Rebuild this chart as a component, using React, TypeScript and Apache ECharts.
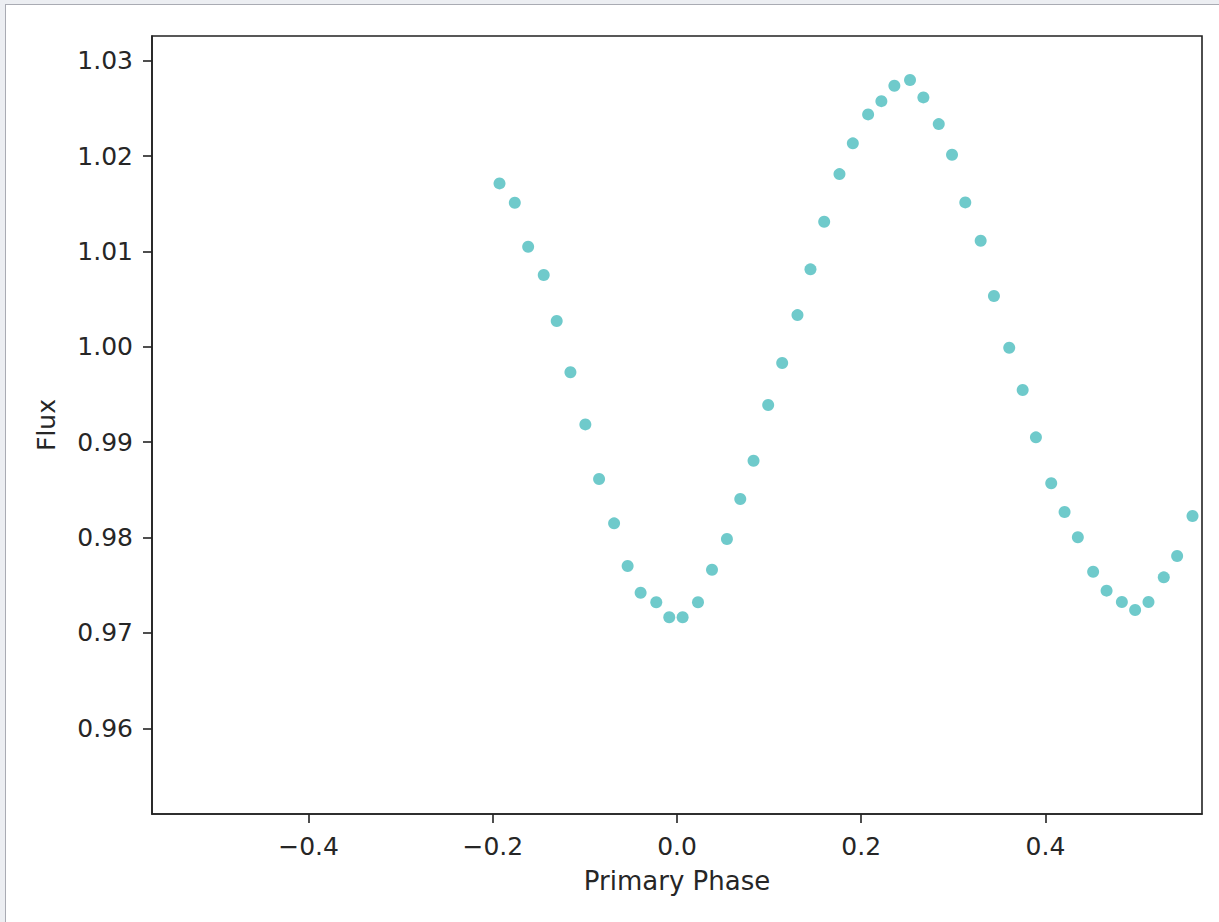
import React, { useEffect, useRef } from "react";
import * as echarts from "echarts";

const phase: number[] = [
  -0.1927, -0.1761, -0.1616, -0.1447, -0.1306, -0.1157, -0.0995, -0.0846, -0.0683, -0.0536,
  -0.0395, -0.0225, -0.0084, 0.0061, 0.0228, 0.038, 0.0542, 0.0687, 0.0831, 0.099,
  0.1142, 0.1308, 0.1449, 0.1598, 0.1764, 0.1909, 0.2075, 0.2219, 0.236, 0.253,
  0.2675, 0.2842, 0.2986, 0.313, 0.3297, 0.3441, 0.3607, 0.3753, 0.3897, 0.4063,
  0.4208, 0.4352, 0.4518, 0.4664, 0.483, 0.4974, 0.5119, 0.5285, 0.543, 0.5597,
];
const flux: number[] = [
  1.01714, 1.01511, 1.0105, 1.00753, 1.00271, 0.99733, 0.99187, 0.98614, 0.98149, 0.97702,
  0.97422, 0.97321, 0.97164, 0.97164, 0.97321, 0.97663, 0.97985, 0.98404, 0.98806, 0.9939,
  0.9983, 1.00333, 1.00813, 1.01312, 1.01812, 1.02134, 1.02438, 1.02577, 1.02738, 1.02798,
  1.02616, 1.02336, 1.02014, 1.01515, 1.01113, 1.00533, 0.99991, 0.99547, 0.99051, 0.98569,
  0.98268, 0.98003, 0.97642, 0.97443, 0.97324, 0.9724, 0.97324, 0.97583, 0.97807, 0.98226,
];
const xTicks: number[] = [-0.4, -0.2, 0.0, 0.2, 0.4];
const yTicks: number[] = [0.96, 0.97, 0.98, 0.99, 1.0, 1.01, 1.02, 1.03];

const FONT = "DejaVu Sans";
const TXT = "#262626";

export default function App() {
  const ref = useRef<HTMLDivElement>(null);
  useEffect(() => {
    if (!ref.current) return;
    const chart = echarts.init(ref.current, null, { renderer: "svg" });
    chart.setOption({
      animation: false,
      grid: {
        left: 152,
        top: 36,
        width: 1050,
        height: 778,
        show: true,
        borderColor: "#222",
        borderWidth: 1.6,
        backgroundColor: "transparent",
      },
      xAxis: {
        type: "value",
        min: -0.57,
        max: 0.57,
        name: "Primary Phase",
        nameLocation: "middle",
        nameGap: 54,
        nameTextStyle: { fontFamily: FONT, fontSize: 26, color: TXT },
        splitLine: { show: false },
        axisLine: { show: true, onZero: false, lineStyle: { color: "#222", width: 1.6 } },
        axisTick: { show: true, length: 9, lineStyle: { color: "#222", width: 1.6 }, customValues: xTicks },
        axisLabel: {
          customValues: xTicks,
          margin: 20,
          fontFamily: FONT,
          fontSize: 25,
          color: TXT,
          formatter: (v: number) => v.toFixed(1).replace("-", "\u2212"),
        },
      },
      yAxis: {
        type: "value",
        min: 0.95101,
        max: 1.0326,
        name: "Flux",
        nameLocation: "middle",
        nameGap: 93,
        nameTextStyle: { fontFamily: FONT, fontSize: 25, color: TXT },
        splitLine: { show: false },
        axisLine: { show: true, onZero: false, lineStyle: { color: "#222", width: 1.6 } },
        axisTick: { show: true, length: 9, lineStyle: { color: "#222", width: 1.6 }, customValues: yTicks },
        axisLabel: {
          customValues: yTicks,
          margin: 19,
          fontFamily: FONT,
          fontSize: 25,
          color: TXT,
          formatter: (v: number) => v.toFixed(2),
        },
      },
      series: [
        {
          type: "scatter",
          data: phase.map((p, i) => [p, flux[i]]),
          symbol: "circle",
          symbolSize: 12,
          clip: true,
          itemStyle: { color: "#4bbdbe" },
        },
      ],
    });
    return () => chart.dispose();
  }, []);
  return (
    <div style={{ position: "absolute", left: 0, top: 0, width: 1219, height: 922, background: "#eceef2", overflow: "hidden" }}>
      <div
        style={{
          position: "absolute",
          left: 5,
          top: 4,
          width: 1214,
          height: 918,
          background: "#ffffff",
          borderLeft: "1px solid #a9abb3",
          borderTop: "1px solid #a9abb3",
          boxSizing: "border-box",
        }}
      />
      <div ref={ref} style={{ position: "absolute", left: 0, top: 0, width: 1219, height: 922 }} />
    </div>
  );
}
